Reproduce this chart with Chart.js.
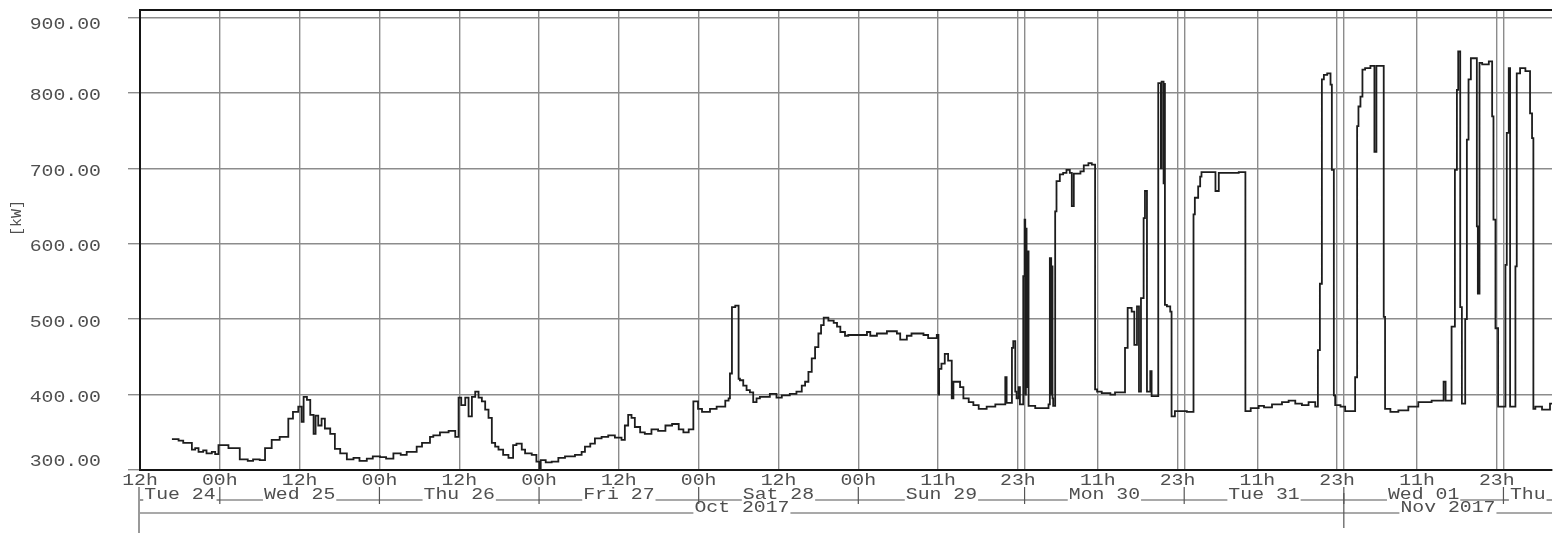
<!DOCTYPE html>
<html>
<head>
<meta charset="utf-8">
<script src="https://cdn.jsdelivr.net/npm/chart.js@4.4.1/dist/chart.umd.min.js"></script>
<style>
  html, body { margin: 0; padding: 0; background: #fff; }
  #c { display: block; }
</style>
</head>
<body>
<canvas id="c" width="1564" height="541"></canvas>
<script>
// Active power, hours counted from Tue 24 Oct 2017 12:00 (local time).
// Each value holds until the next sample (step series).
const tue24Hours = [4.8, 5.8, 6.5, 7.8, 8.3, 8.8, 9.5, 10.0, 10.8, 11.3, 11.8];
const tue24Kw    = [341, 339, 336, 327, 329, 324, 326, 322, 324, 321, 333];

const wed25Hours = [13.3, 15.0, 16.2, 17.0, 18.0, 18.8, 19.8, 21.0, 22.3, 23.0, 23.8, 24.3, 24.6, 25.1, 25.6, 26.1, 26.4, 26.8, 27.3, 27.8, 28.6, 29.3, 30.1, 31.1, 32.1, 33.0, 34.1, 35.0];
const wed25Kw    = [329, 314, 312, 314, 313, 329, 340, 344, 368, 377, 384, 364, 397, 393, 373, 348, 372, 359, 368, 355, 348, 328, 322, 314, 316, 312, 315, 318];

const thu26Hours = [36.1, 37.0, 38.1, 39.2, 40.1, 41.6, 42.4, 43.6, 44.1, 45.1, 46.4, 47.4, 47.9, 48.3, 48.9, 49.4, 49.9, 50.4, 50.9, 51.4, 51.9, 52.4, 52.9, 53.4, 53.9, 54.6, 55.4, 56.1, 56.6, 57.4, 57.9, 58.9, 59.6];
const thu26Kw    = [317, 315, 322, 320, 324, 331, 336, 344, 346, 350, 352, 344, 396, 386, 396, 371, 397, 404, 396, 391, 380, 369, 336, 331, 327, 320, 316, 333, 335, 327, 322, 320, 311];

const fri27Hours = [60.05, 60.25, 61.0, 61.9, 62.9, 63.9, 65.4, 66.4, 66.9, 67.7, 68.4, 69.4, 70.4, 71.4, 72.4, 72.9, 73.4, 73.9, 74.4, 75.2, 75.9, 76.9, 77.9, 79.0, 80.0, 81.0, 81.7, 82.5, 83.2, 83.9];
const fri27Kw    = [298, 313, 310, 311, 316, 318, 320, 324, 331, 335, 342, 344, 346, 343, 340, 359, 373, 369, 357, 350, 348, 354, 352, 359, 361, 354, 350, 354, 391, 381];

const sat28Hours = [84.5, 85.7, 86.7, 88.0, 88.5, 88.7, 89.0, 89.5, 90.0, 90.2, 90.7, 91.2, 91.7, 92.2, 92.7, 93.2, 94.7, 95.7, 96.5, 97.7, 98.7, 99.5, 100.0, 100.5, 101.0, 101.5, 102.0, 102.4, 102.8, 103.5, 104.3, 104.8, 105.3, 106.0, 106.5];
const sat28Kw    = [377, 381, 384, 392, 395, 428, 516, 518, 421, 419, 412, 406, 403, 390, 395, 397, 401, 396, 399, 401, 404, 412, 417, 430, 448, 463, 481, 492, 502, 498, 495, 490, 483, 478, 479];

const sun29Hours = [109.3, 109.8, 110.8, 112.3, 113.8, 114.3, 115.3, 116.0, 117.8, 118.5, 119.8, 120.05, 120.15, 120.5, 121.0, 121.5, 122.05, 122.3, 123.3, 123.8, 124.6, 125.3, 126.1, 127.3, 128.6, 130.1, 130.3, 131.1, 131.3, 131.6, 131.8, 132.1, 132.3, 132.8];
const sun29Kw    = [483, 478, 481, 484, 481, 473, 478, 481, 479, 475, 479, 400, 434, 441, 454, 445, 395, 417, 410, 395, 390, 386, 381, 384, 387, 423, 389, 462, 471, 404, 395, 410, 387, 557];

const mon30Hours = [133.0, 133.1, 133.2, 133.3, 133.4, 133.6, 134.6, 136.6, 136.8, 137.0, 137.1, 137.2, 137.3, 137.6, 137.8, 138.3, 138.8, 139.3, 139.8, 140.1, 140.4, 141.4, 141.9, 142.6, 143.1, 143.6, 143.9, 144.6, 145.9, 146.6, 148.1, 148.5, 149.1, 149.5, 149.9, 150.2, 150.5, 150.9, 151.1, 151.4, 151.9, 152.1, 153.1, 153.5, 153.6, 153.9, 154.0, 154.1, 154.4, 154.9, 155.1, 155.6];
const mon30Kw    = [632, 400, 620, 410, 590, 385, 382, 387, 581, 400, 570, 395, 385, 643, 683, 692, 694, 698, 694, 650, 693, 696, 704, 707, 705, 407, 404, 402, 400, 403, 462, 515, 510, 466, 517, 404, 528, 634, 670, 404, 431, 398, 813, 700, 815, 680, 812, 519, 517, 510, 371, 378];

const tue31Hours = [157.4, 158.4, 158.6, 159.1, 159.4, 159.6, 161.7, 162.2, 165.2, 166.2, 167.0, 168.2, 169.0, 170.2, 171.7, 172.7, 173.7, 174.7, 175.7, 176.7, 177.1, 177.4, 177.7, 178.0, 178.5, 179.0, 179.2, 179.5, 179.7, 180.5];
const tue31Kw    = [377, 639, 661, 676, 689, 695, 670, 694, 695, 378, 382, 385, 383, 387, 390, 392, 388, 386, 390, 384, 459, 547, 818, 824, 826, 811, 698, 399, 386, 384];

const wed01Hours = [181.2, 182.7, 183.0, 183.2, 183.5, 183.8, 184.2, 185.0, 185.6, 185.9, 187.0, 187.2, 188.0, 189.2, 190.7, 192.2, 194.2, 196.0, 196.3, 197.2, 197.7, 198.0, 198.2, 198.5, 198.75, 199.25, 199.5, 199.75, 200.1, 201.0, 201.15, 201.4, 201.8, 202.8, 203.3, 203.5, 203.8, 204.2];
const wed01Kw    = [378, 423, 756, 782, 795, 831, 833, 836, 722, 836, 503, 381, 377, 379, 384, 390, 392, 417, 392, 490, 698, 804, 855, 516, 388, 500, 738, 818, 846, 623, 534, 840, 838, 842, 769, 632, 488, 384];

const thu02Hours = [205.3, 205.5, 205.8, 206.0, 206.8, 207.0, 207.5, 208.3, 209.0, 209.3, 209.5, 209.8, 210.8, 212.0, 212.3];
const thu02Kw    = [572, 747, 833, 384, 570, 826, 833, 829, 773, 740, 381, 384, 380, 388, 388];

// Axis content
const yTickValues = [300, 400, 500, 600, 700, 800, 900];
const xTickHours  = [0, 12, 24, 36, 48, 60, 72, 84, 96, 108, 120, 132, 144, 156, 168, 180, 192, 204];
const xTickLabels = ['12h', '00h', '12h', '00h', '12h', '00h', '12h', '00h', '12h', '00h', '11h', '23h', '11h', '23h', '11h', '23h', '11h', '23h'];
const dayStartHours = [0, 12, 36, 60, 84, 108, 133, 157, 181, 205];
const dayLabels     = ['Tue 24', 'Wed 25', 'Thu 26', 'Fri 27', 'Sat 28', 'Sun 29', 'Mon 30', 'Tue 31', 'Wed 01', 'Thu'];
const monthStartHours = [0, 181];
const monthLabels     = ['Oct 2017', 'Nov 2017'];
const unitLabel = '[kW]';
const endHour = 212.3;

const dayHours = [tue24Hours, wed25Hours, thu26Hours, fri27Hours, sat28Hours, sun29Hours, mon30Hours, tue31Hours, wed01Hours, thu02Hours];
const dayKw    = [tue24Kw, wed25Kw, thu26Kw, fri27Kw, sat28Kw, sun29Kw, mon30Kw, tue31Kw, wed01Kw, thu02Kw];
const points = [];
dayHours.forEach((hrs, i) => hrs.forEach((h, j) => points.push({ x: h, y: dayKw[i][j] })));

// vertical grid: every 12 h plus the local midnights after the clock change
const gridHours = Array.from(new Set(xTickHours.concat(dayStartHours))).sort((a, b) => a - b);

const FONT = '16.5px "Liberation Mono", "DejaVu Sans Mono", monospace';
const STRETCH = 1.2;
const TEXT = '#4f4f4f';

function wideText(ctx, str, x, y, align) {
  ctx.save();
  ctx.translate(x, y);
  ctx.scale(STRETCH, 1);
  ctx.textAlign = align;
  ctx.textBaseline = 'middle';
  ctx.fillText(str, 0, 0);
  ctx.restore();
}
function seg(ctx, x1, y1, x2, y2) {
  ctx.beginPath();
  ctx.moveTo(x1, y1);
  ctx.lineTo(x2, y2);
  ctx.stroke();
}

const axisText = {
  id: 'axisText',
  afterDraw(chart) {
    const { ctx, chartArea: a, scales: { x, y } } = chart;
    ctx.save();

    // top frame
    ctx.strokeStyle = '#151515';
    ctx.lineWidth = 2;
    seg(ctx, a.left - 1, a.top, a.right, a.top);

    ctx.font = FONT;
    ctx.fillStyle = TEXT;

    // value labels
    yTickValues.forEach(v => {
      const py = Math.min(Math.max(y.getPixelForValue(v) + 3, a.top + 15), a.bottom - 8);
      wideText(ctx, v.toFixed(2), 101, py, 'right');
    });

    // unit
    ctx.save();
    ctx.translate(17, 218);
    ctx.rotate(-Math.PI / 2);
    ctx.font = '15px "Liberation Mono", monospace';
    ctx.textAlign = 'center';
    ctx.textBaseline = 'middle';
    ctx.fillText(unitLabel, 0, 0);
    ctx.restore();

    // hour labels
    const row1 = a.bottom + 11, row2 = a.bottom + 25, row3 = a.bottom + 38;
    xTickHours.forEach((h, i) => wideText(ctx, xTickLabels[i], x.getPixelForValue(h), row1, 'center'));

    ctx.strokeStyle = '#555';
    ctx.lineWidth = 1.2;

    function spanRow(starts, labels, rowY) {
      starts.forEach((s, i) => {
        const e = i + 1 < starts.length ? starts[i + 1] : endHour;
        const p1 = x.getPixelForValue(s);
        const p2 = x.getPixelForValue(Math.min(e, endHour));
        const w = ctx.measureText(labels[i]).width * STRETCH;
        const cx = (p1 + p2) / 2;
        wideText(ctx, labels[i], cx, rowY, 'center');
        const ly = rowY + 5;
        if (cx - w / 2 - 1 > p1) seg(ctx, p1, ly, cx - w / 2 - 1, ly);
        if (cx + w / 2 + 1 < p2) seg(ctx, cx + w / 2 + 1, ly, p2, ly);
      });
    }
    spanRow(dayStartHours, dayLabels, row2);
    spanRow(monthStartHours, monthLabels, row3);

    // day separators
    dayStartHours.slice(1).forEach(h => {
      const px = x.getPixelForValue(h);
      seg(ctx, px, row2 - 8, px, row2 + 9);
    });
    // start line and month separators
    const left = x.getPixelForValue(0) - 1;
    seg(ctx, left, row2 - 8, left, a.bottom + 63);
    monthStartHours.slice(1).forEach(h => {
      const px = x.getPixelForValue(h);
      seg(ctx, px, row2 - 2, px, a.bottom + 58);
    });

    ctx.restore();
  }
};

new Chart(document.getElementById('c'), {
  type: 'line',
  data: {
    datasets: [{
      data: points,
      stepped: true,
      borderColor: '#1d1d1d',
      borderWidth: 1.8,
      pointRadius: 0,
      fill: false
    }]
  },
  options: {
    responsive: false,
    animation: false,
    events: [],
    layout: { padding: { top: 10, right: 12, left: 0, bottom: 0 } },
    plugins: { legend: { display: false }, tooltip: { enabled: false } },
    scales: {
      x: {
        type: 'linear',
        min: 0,
        max: endHour,
        afterBuildTicks: s => { s.ticks = gridHours.map(v => ({ value: v })); },
        afterFit: s => { s.height = 71; },
        ticks: { display: false },
        grid: { color: '#8c8c8c', lineWidth: 1.4, drawTicks: false },
        border: { display: true, color: '#151515', width: 2 }
      },
      y: {
        min: 300,
        max: 910,
        afterBuildTicks: s => { s.ticks = yTickValues.map(v => ({ value: v })); },
        afterFit: s => { s.width = 140; },
        ticks: { display: false },
        grid: { color: '#8c8c8c', lineWidth: 1.4, drawTicks: true, tickLength: 12 },
        border: { display: true, color: '#151515', width: 2 }
      }
    }
  },
  plugins: [axisText]
});
</script>
</body>
</html>
